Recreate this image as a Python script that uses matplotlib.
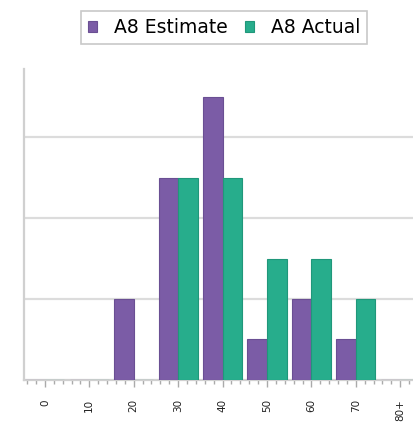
import matplotlib.pyplot as plt
import numpy as np
from matplotlib.ticker import MultipleLocator

# age bands
bins = ['0', '10', '20', '30', '40', '50', '60', '70', '80+']
estimate = [0, 0, 2, 5, 7, 1, 2, 1, 0]
actual = [0, 0, 0, 5, 5, 3, 3, 2, 0]

purple = '#7b5ca6'
green = '#27ad8c'

fig = plt.figure(figsize=(4.14, 4.24), dpi=100)
ax = fig.add_axes([0.058, 0.104, 0.942, 0.734])

x = np.arange(len(bins))
w = 0.44
ax.bar(x - w / 2, estimate, w, color=purple, edgecolor='#6a4f93', linewidth=0.8, label='A8 Estimate', zorder=3)
ax.bar(x + w / 2, actual, w, color=green, edgecolor='#20977a', linewidth=0.8, label='A8 Actual', zorder=3)

ax.set_xlim(-0.47, 8.31)
ax.set_ylim(0, 7.7)
ax.set_yticks([2, 4, 6])
ax.yaxis.grid(True, color='#dcdcdc', linewidth=1.6, zorder=0)
ax.tick_params(axis='y', length=0, labelleft=False)

ax.set_xticks(x)
ax.set_xticklabels(bins, rotation=90, fontsize=7.5, color='#222222')
ax.xaxis.set_minor_locator(MultipleLocator(0.2))
ax.tick_params(axis='x', which='major', length=5, width=1, color='#aaaaaa', pad=9)
ax.tick_params(axis='x', which='minor', length=3, width=1, color='#aaaaaa')

for s in ['top', 'right']:
    ax.spines[s].set_visible(False)
for s in ['left', 'bottom']:
    ax.spines[s].set_color('#d0d0d0')
    ax.spines[s].set_linewidth(1.6)

leg = fig.legend(loc='center', bbox_to_anchor=(224 / 414, 1 - 27.5 / 424), ncol=2,
                 fontsize=13.5, handlelength=0.5, handleheight=0.5, handletextpad=0.9,
                 columnspacing=0.9, fancybox=False, borderpad=0.35)
leg.get_frame().set_edgecolor('#bbbbbb')
leg.get_frame().set_linewidth(1.2)

fig.savefig('out.png', dpi=100)
